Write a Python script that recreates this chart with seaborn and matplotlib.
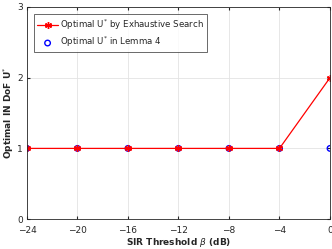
import pandas as pd
import seaborn as sns
import matplotlib.pyplot as plt

# SIR threshold (dB) and optimal U* values
sir_db = [-24, -20, -16, -12, -8, -4, 0]
u_exhaustive = [1, 1, 1, 1, 1, 1, 2]
u_lemma = [1, 1, 1, 1, 1, 1, 1]

df = pd.DataFrame({'sir': sir_db, 'exh': u_exhaustive, 'lemma': u_lemma})

sns.set_style('whitegrid')
plt.rcParams['font.family'] = ['DejaVu Sans']

fig = plt.figure(figsize=(3.32, 2.49), dpi=100)
ax = fig.add_axes([0.081, 0.12, 0.913, 0.852])

sns.lineplot(data=df, x='sir', y='exh', ax=ax, color='red', lw=0.9,
             marker=(6, 2, 0), markersize=5, markeredgewidth=1.0, markeredgecolor='red',
             label='Optimal U$^{*}$ by Exhaustive Search')
sns.scatterplot(data=df, x='sir', y='lemma', ax=ax, s=16, facecolor='none',
                edgecolor='blue', linewidth=1.0, label='Optimal U$^{*}$ in Lemma 4')

ax.set_xlim(-24, 0)
ax.set_ylim(0, 3)
ax.set_xticks(sir_db)
ax.set_yticks([0, 1, 2, 3])
ax.tick_params(labelsize=6.5, length=2, colors='#262626', direction='in',
               top=True, right=True, bottom=True, left=True)
ax.tick_params(axis='x', pad=5)
ax.tick_params(axis='y', pad=3)
ax.grid(True, color='#e3e3e3', lw=0.6)
for s in ax.spines.values():
    s.set_color('#262626')
    s.set_linewidth(0.6)

ax.set_xlabel(r'SIR Threshold $\beta$ (dB)', fontsize=6.5, fontweight='bold', labelpad=1)
ax.set_ylabel('Optimal IN DoF U$^{*}$', fontsize=6.5, fontweight='bold', labelpad=1)

leg = ax.legend(loc='upper left', fontsize=6.2, frameon=True, fancybox=False,
                borderpad=0.35, handlelength=2.4, handletextpad=0.3, labelspacing=0.35,
                bbox_to_anchor=(0.01, 0.985))
leg.get_frame().set_edgecolor('#262626')
leg.get_frame().set_linewidth(0.6)

plt.savefig('out.png', dpi=100)
